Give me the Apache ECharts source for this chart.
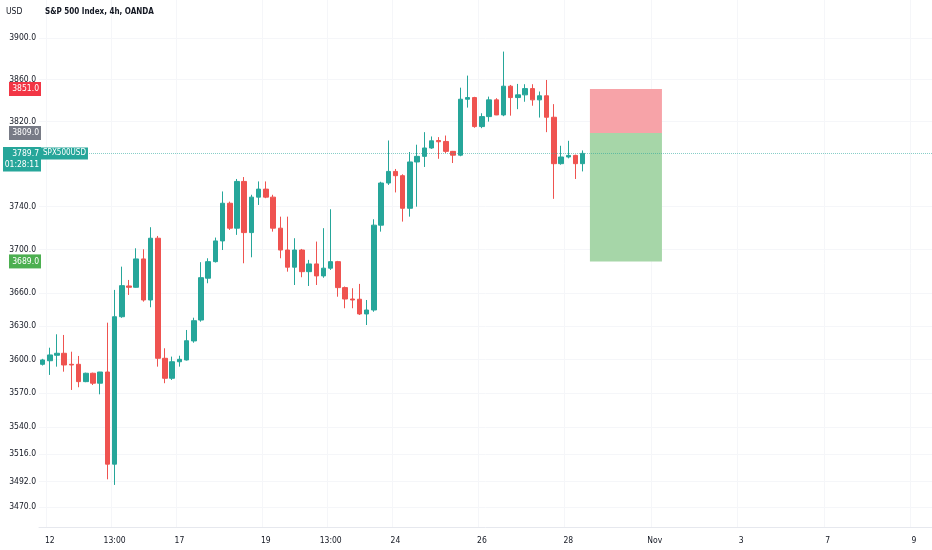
<!DOCTYPE html>
<html>
<head>
<meta charset="utf-8">
<script src="https://cdn.jsdelivr.net/npm/echarts@6/dist/echarts.min.js"></script>
<style>
html,body{margin:0;padding:0;background:#ffffff;}
#chart{width:932px;height:550px;}
</style>
</head>
<body>
<div id="chart"></div>
<script>
// ---- data ----
const opens  = [3595.6,3598.8,3603.7,3605.5,3595.6,3595.6,3580.1,3587.6,3578.7,3588.7,
                3507.2,3638.5,3666.5,3665.3,3691.3,3653.7,3710.4,3601.0,3583.1,3597.9,
                3599.5,3616.6,3635.5,3673.6,3688.8,3707.9,3742.9,3719.7,3763.3,3715.6,
                3748.6,3756.1,3748.6,3719.7,3699.5,3683.7,3699.5,3679.6,3686.7,3675.7,
                3682.8,3688.8,3665.0,3654.6,3654.4,3641.0,3644.6,3722.5,3761.8,3772.7,
                3768.7,3738.2,3781.6,3786.9,3794.8,3801.9,3801.0,3791.6,3788.0,3841.2,
                3842.8,3815.1,3824.6,3840.6,3826.2,3853.7,3842.8,3845.4,3851.4,3840.6,
                3844.5,3824.0,3780.0,3786.3,3787.8,3780.0];
const closes = [3599.5,3604.0,3605.5,3595.0,3595.0,3580.1,3587.6,3578.7,3588.7,3507.2,
                3638.5,3666.8,3665.3,3691.3,3653.7,3710.4,3601.0,3583.1,3597.9,3600.1,
                3616.8,3634.9,3674.1,3688.8,3707.9,3742.9,3719.7,3763.3,3715.6,3748.6,
                3756.1,3748.6,3719.7,3699.5,3683.7,3699.5,3679.6,3686.7,3675.7,3682.8,
                3688.8,3665.0,3654.6,3653.7,3641.0,3644.6,3722.5,3761.8,3772.7,3768.7,
                3738.2,3781.6,3786.9,3794.8,3801.6,3800.7,3791.6,3788.0,3841.2,3842.8,
                3815.1,3824.6,3840.6,3826.2,3853.7,3842.8,3845.4,3851.4,3840.6,3844.5,
                3824.0,3780.0,3786.3,3787.8,3780.0,3789.7];
const lows   = [3594.5,3586.1,3593.5,3589.0,3572.7,3575.1,3579.6,3577.1,3568.8,3494.0,
                3489.1,3637.5,3658.3,3665.0,3652.2,3647.1,3593.5,3578.7,3581.6,3593.5,
                3599.0,3615.0,3634.0,3669.0,3688.0,3699.5,3718.1,3713.5,3687.3,3692.8,
                3741.3,3747.6,3716.5,3691.9,3679.6,3667.4,3674.5,3666.5,3667.4,3674.0,
                3681.2,3656.7,3646.2,3646.2,3640.1,3631.0,3643.0,3716.5,3760.0,3753.0,
                3725.8,3730.4,3739.7,3776.9,3794.0,3784.6,3790.0,3780.6,3787.0,3833.2,
                3814.0,3813.6,3819.8,3826.0,3825.0,3825.5,3831.7,3838.8,3835.0,3823.7,
                3809.8,3747.0,3779.0,3785.0,3765.6,3772.7];
const highs  = [3600.5,3610.5,3622.6,3622.0,3606.9,3603.1,3588.1,3588.1,3588.8,3633.1,
                3662.9,3684.2,3672.0,3701.1,3700.2,3720.6,3712.5,3610.0,3602.5,3603.3,
                3626.5,3637.6,3688.3,3691.9,3711.0,3753.9,3744.4,3765.6,3767.4,3750.8,
                3763.3,3763.3,3750.8,3730.4,3730.4,3710.4,3700.5,3690.4,3707.3,3719.7,
                3737.3,3689.5,3666.0,3664.4,3668.4,3653.7,3728.0,3763.0,3801.9,3775.0,
                3770.0,3791.0,3797.9,3809.8,3805.7,3805.1,3806.6,3792.0,3852.3,3863.9,
                3843.5,3827.8,3843.7,3842.2,3887.1,3854.9,3855.9,3855.6,3855.6,3848.6,
                3859.7,3836.5,3796.9,3801.6,3788.5,3792.5];

const slotCount   = 124;                       // 4h slots incl. empty future space
const xTickSlots  = [1, 10, 19, 31, 40, 49, 61, 73, 85, 97, 109, 121];
const xTickLabels = ['12', '13:00', '17', '19', '13:00', '24', '26', '28', 'Nov', '3', '7', '9'];
const yTickValues = [3470, 3492, 3516, 3540, 3570, 3600, 3630, 3660, 3700, 3740, 3820, 3860, 3900];
const yRange      = [3452.7, 3937.4];

const lastPrice   = 3789.7;
const countdown   = '01:28:11';
const symbolName  = 'SPX500USD';
const titleText   = 'S&P 500 Index, 4h, OANDA';
const currency    = 'USD';

const positionStop   = 3851;
const positionEntry  = 3809;
const positionTarget = 3689;
const positionSlots  = [76, 86];

// ---- styling ----
const UP = '#26a69a', DOWN = '#ef5350';
const FONT = "'DejaVu Sans Condensed', 'Liberation Sans', sans-serif";
const TXT = '#131722';
const GRIDC = '#f5f6f9';
const FS = 8.5;
const CLEAR = 'rgba(0,0,0,0)';

const categories = Array.from({length: slotCount}, (_, i) => String(i));
const candleData = opens.map((o, i) => [o, closes[i], lows[i], highs[i]]);
const tickMap = {};
xTickSlots.forEach((s, i) => { tickMap[s] = xTickLabels[i]; });

function tag(value, text, bg) {
  return {
    yAxis: value,
    lineStyle: {color: CLEAR, width: 0},
    label: {
      show: true, position: 'start', distance: -2, formatter: text,
      color: '#ffffff', backgroundColor: bg, fontFamily: FONT, fontSize: FS,
      lineHeight: 11, padding: [2, 2, 1, 4], width: 26, align: 'right', verticalAlign: 'middle'
    }
  };
}

// grid lines + price scale labels (drawn below the candles and the position box)
const gridLineData = yTickValues.map(v => ({
  yAxis: v,
  lineStyle: {color: GRIDC, width: 1, type: 'solid'},
  label: {show: true, position: 'start', distance: 3, formatter: v.toFixed(1),
          color: TXT, fontFamily: FONT, fontSize: FS}
}));

// price tags and the current price line (drawn on top)
const tagData = [
  tag(positionStop, positionStop.toFixed(1), '#f23645'),
  tag(positionEntry, positionEntry.toFixed(1), '#787b86'),
  tag(positionTarget, positionTarget.toFixed(1), '#4caf50'),
  {
    yAxis: lastPrice,
    lineStyle: {color: CLEAR, width: 0},
    label: {show: true, position: 'start', distance: -2, formatter: countdown,
            color: '#fff', backgroundColor: UP, fontFamily: FONT, fontSize: FS, lineHeight: 11,
            padding: [6, 2, 1, 4], width: 32, align: 'right', verticalAlign: 'top'}
  },
  {
    yAxis: lastPrice,
    lineStyle: {color: 'rgba(38,166,154,0.55)', width: 1, type: 'dotted'},
    label: {show: true, position: 'start', distance: -2, formatter: lastPrice.toFixed(1),
            color: '#fff', backgroundColor: UP, fontFamily: FONT, fontSize: FS, lineHeight: 11,
            padding: [1, 2, 1, 4], width: 32, align: 'right', verticalAlign: 'middle'}
  },
  {
    yAxis: lastPrice,
    lineStyle: {color: CLEAR, width: 0},
    label: {show: true, position: 'insideStart', distance: [2, 0], formatter: symbolName,
            color: '#fff', backgroundColor: UP, fontFamily: FONT, fontSize: 8, lineHeight: 11,
            padding: [1, 2, 0, 2], align: 'left', verticalAlign: 'middle'}
  }
];

const chart = echarts.init(document.getElementById('chart'), null, {renderer: 'canvas'});
chart.setOption({
  animation: false,
  backgroundColor: '#ffffff',
  title: [
    {text: currency, left: 6, top: 7, padding: 0,
     textStyle: {fontFamily: FONT, fontSize: FS, fontWeight: 'normal', color: TXT}},
    {text: titleText, left: 45, top: 8, padding: 0,
     textStyle: {fontFamily: FONT, fontSize: 8, fontWeight: 'bold', color: TXT}}
  ],
  grid: {left: 39, right: 0, top: 0, bottom: 23, containLabel: false},
  xAxis: {
    type: 'category',
    data: categories,
    boundaryGap: true,
    axisLine: {show: true, lineStyle: {color: '#e6e8ee'}},
    axisTick: {show: false},
    axisLabel: {
      interval: (idx) => tickMap[idx] !== undefined,
      formatter: (val, idx) => tickMap[idx] || '',
      color: TXT, fontFamily: FONT, fontSize: FS, margin: 9
    },
    splitLine: {show: true, interval: (idx) => tickMap[idx] !== undefined,
                lineStyle: {color: GRIDC}}
  },
  yAxis: {
    type: 'log',
    min: yRange[0],
    max: yRange[1],
    axisLine: {show: false},
    axisTick: {show: false},
    axisLabel: {show: false},
    splitLine: {show: false}
  },
  series: [
    {
      name: 'price scale',
      type: 'line',
      data: [],
      silent: true,
      markLine: {silent: true, z: 0, symbol: ['none', 'none'], precision: 1, data: gridLineData}
    },
    {
      name: symbolName,
      type: 'candlestick',
      data: candleData,
      barWidth: 5,
      itemStyle: {color: UP, color0: DOWN, borderColor: UP, borderColor0: DOWN, borderWidth: 1},
      markArea: {
        silent: true,
        data: [
          [{coord: [positionSlots[0], positionStop], itemStyle: {color: '#f7a3a8', opacity: 1}},
           {coord: [positionSlots[1], positionEntry]}],
          [{coord: [positionSlots[0], positionEntry], itemStyle: {color: '#a6d6a8', opacity: 1}},
           {coord: [positionSlots[1], positionTarget]}]
        ]
      },
      markLine: {silent: true, symbol: ['none', 'none'], precision: 1, data: tagData}
    }
  ]
});
</script>
</body>
</html>
